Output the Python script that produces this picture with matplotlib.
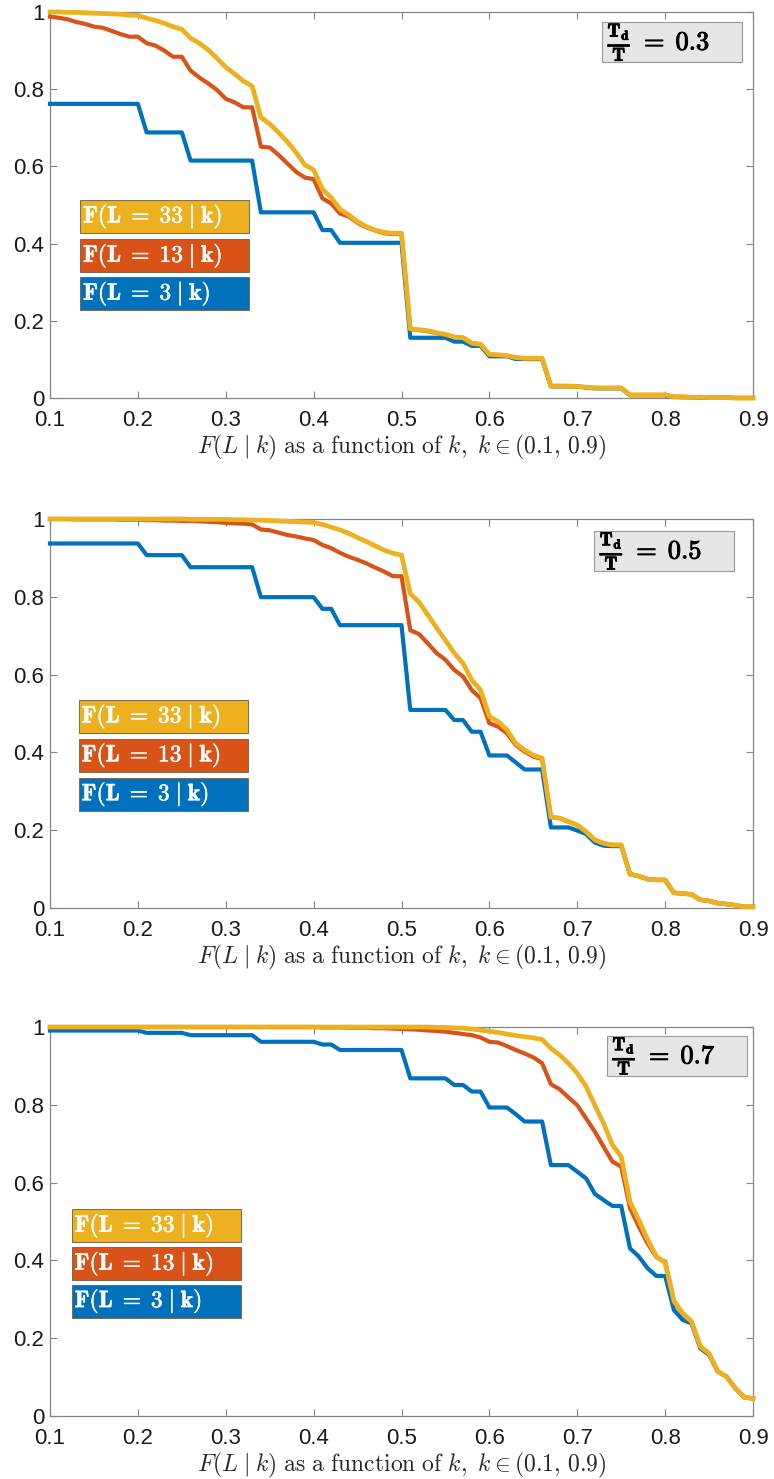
import numpy as np
import matplotlib
matplotlib.use("Agg")
import matplotlib.pyplot as plt
import matplotlib.patheffects as pe
from matplotlib.patches import Rectangle

plt.rcParams["font.family"] = ["Liberation Sans", "DejaVu Sans"]
plt.rcParams["mathtext.fontset"] = "cm"

# k grid, 0.10 ... 0.90 in steps of 0.01
k = np.round(np.arange(10, 91) / 100, 2)

# Td/T = 0.3
f3_03 = [0.762, 0.762, 0.762, 0.762, 0.762, 0.762, 0.762, 0.762, 0.762, 0.762,
         0.762, 0.688, 0.688, 0.688, 0.688, 0.688, 0.615, 0.615, 0.615, 0.615,
         0.615, 0.615, 0.615, 0.615, 0.481, 0.481, 0.481, 0.481, 0.481, 0.481,
         0.481, 0.435, 0.435, 0.402, 0.402, 0.402, 0.402, 0.402, 0.402, 0.402,
         0.402, 0.156, 0.156, 0.156, 0.156, 0.156, 0.146, 0.146, 0.135, 0.135,
         0.108, 0.108, 0.108, 0.101, 0.101, 0.101, 0.101, 0.030, 0.030, 0.030,
         0.030, 0.027, 0.025, 0.025, 0.025, 0.025, 0.007, 0.007, 0.007, 0.007,
         0.007, 0.003, 0.002, 0.002, 0.001, 0.001, 0.001, 0.001, 0.000, 0.000, 0.000]
f13_03 = [0.988, 0.985, 0.981, 0.974, 0.969, 0.962, 0.959, 0.951, 0.943, 0.936,
          0.936, 0.919, 0.913, 0.900, 0.884, 0.884, 0.848, 0.830, 0.815, 0.798,
          0.775, 0.766, 0.753, 0.753, 0.651, 0.649, 0.630, 0.608, 0.586, 0.571,
          0.567, 0.517, 0.504, 0.478, 0.470, 0.454, 0.442, 0.434, 0.427, 0.425,
          0.425, 0.178, 0.176, 0.173, 0.168, 0.164, 0.158, 0.156, 0.142, 0.139,
          0.112, 0.111, 0.109, 0.104, 0.102, 0.102, 0.102, 0.031, 0.031, 0.031,
          0.030, 0.028, 0.026, 0.026, 0.026, 0.026, 0.008, 0.008, 0.008, 0.008,
          0.008, 0.003, 0.003, 0.002, 0.002, 0.001, 0.001, 0.001, 0.000, 0.000, 0.000]
f33_03 = [1.000, 1.000, 0.999, 0.999, 0.998, 0.997, 0.996, 0.995, 0.994, 0.992,
          0.991, 0.984, 0.978, 0.971, 0.962, 0.955, 0.932, 0.919, 0.902, 0.880,
          0.857, 0.840, 0.821, 0.808, 0.727, 0.710, 0.688, 0.664, 0.636, 0.604,
          0.591, 0.541, 0.519, 0.489, 0.474, 0.457, 0.444, 0.435, 0.429, 0.427,
          0.427, 0.179, 0.177, 0.174, 0.169, 0.165, 0.158, 0.156, 0.142, 0.139,
          0.113, 0.112, 0.110, 0.105, 0.103, 0.103, 0.103, 0.031, 0.031, 0.031,
          0.030, 0.028, 0.026, 0.026, 0.026, 0.026, 0.008, 0.008, 0.008, 0.008,
          0.008, 0.003, 0.003, 0.002, 0.002, 0.001, 0.001, 0.001, 0.000, 0.000, 0.000]

# Td/T = 0.5
f3_05 = [0.937, 0.937, 0.937, 0.937, 0.937, 0.937, 0.937, 0.937, 0.937, 0.937,
         0.937, 0.907, 0.907, 0.907, 0.907, 0.907, 0.876, 0.876, 0.876, 0.876,
         0.876, 0.876, 0.876, 0.876, 0.799, 0.799, 0.799, 0.799, 0.799, 0.799,
         0.799, 0.769, 0.769, 0.727, 0.727, 0.727, 0.727, 0.727, 0.727, 0.727,
         0.727, 0.509, 0.509, 0.509, 0.509, 0.509, 0.483, 0.483, 0.453, 0.453,
         0.392, 0.392, 0.392, 0.374, 0.356, 0.356, 0.356, 0.207, 0.207, 0.207,
         0.199, 0.190, 0.168, 0.160, 0.159, 0.159, 0.087, 0.082, 0.074, 0.072,
         0.072, 0.039, 0.037, 0.035, 0.021, 0.018, 0.012, 0.010, 0.007, 0.003, 0.003]
f13_05 = [1.000, 1.000, 1.000, 0.999, 0.999, 0.999, 0.999, 0.999, 0.998, 0.998,
          0.998, 0.997, 0.997, 0.996, 0.996, 0.995, 0.995, 0.994, 0.993, 0.992,
          0.990, 0.989, 0.988, 0.986, 0.973, 0.971, 0.965, 0.959, 0.955, 0.950,
          0.946, 0.933, 0.925, 0.913, 0.903, 0.895, 0.886, 0.875, 0.865, 0.853,
          0.853, 0.714, 0.704, 0.680, 0.655, 0.638, 0.612, 0.595, 0.560, 0.539,
          0.475, 0.466, 0.449, 0.419, 0.402, 0.389, 0.383, 0.233, 0.231, 0.222,
          0.213, 0.196, 0.175, 0.166, 0.162, 0.162, 0.087, 0.082, 0.074, 0.072,
          0.072, 0.039, 0.037, 0.035, 0.021, 0.018, 0.012, 0.010, 0.007, 0.003, 0.003]
f33_05 = [1.000, 1.000, 1.000, 1.000, 1.000, 1.000, 1.000, 1.000, 1.000, 1.000,
          1.000, 1.000, 1.000, 1.000, 1.000, 1.000, 0.999, 0.999, 0.999, 0.999,
          0.999, 0.998, 0.998, 0.997, 0.997, 0.996, 0.995, 0.994, 0.993, 0.992,
          0.991, 0.986, 0.979, 0.972, 0.963, 0.952, 0.942, 0.931, 0.920, 0.912,
          0.907, 0.808, 0.786, 0.753, 0.720, 0.688, 0.655, 0.629, 0.586, 0.560,
          0.492, 0.479, 0.458, 0.423, 0.406, 0.393, 0.385, 0.233, 0.231, 0.222,
          0.213, 0.196, 0.175, 0.166, 0.162, 0.162, 0.087, 0.082, 0.074, 0.072,
          0.072, 0.039, 0.037, 0.035, 0.021, 0.018, 0.012, 0.010, 0.007, 0.003, 0.003]

# Td/T = 0.7
f3_07 = [0.991, 0.991, 0.991, 0.991, 0.991, 0.991, 0.991, 0.991, 0.991, 0.991,
         0.991, 0.985, 0.985, 0.985, 0.985, 0.985, 0.979, 0.979, 0.979, 0.979,
         0.979, 0.979, 0.979, 0.979, 0.962, 0.962, 0.962, 0.962, 0.962, 0.962,
         0.962, 0.955, 0.955, 0.941, 0.941, 0.941, 0.941, 0.941, 0.941, 0.941,
         0.941, 0.868, 0.868, 0.868, 0.868, 0.868, 0.851, 0.851, 0.834, 0.834,
         0.793, 0.793, 0.793, 0.776, 0.757, 0.757, 0.757, 0.645, 0.645, 0.645,
         0.628, 0.611, 0.571, 0.555, 0.540, 0.540, 0.431, 0.410, 0.380, 0.360,
         0.360, 0.272, 0.247, 0.238, 0.174, 0.157, 0.114, 0.101, 0.071, 0.048, 0.045]
f13_07 = [1.000, 1.000, 1.000, 1.000, 1.000, 1.000, 1.000, 1.000, 1.000, 1.000,
          1.000, 1.000, 1.000, 1.000, 1.000, 1.000, 1.000, 1.000, 1.000, 1.000,
          1.000, 1.000, 1.000, 1.000, 1.000, 1.000, 1.000, 1.000, 1.000, 1.000,
          1.000, 0.999, 0.999, 0.999, 0.998, 0.998, 0.998, 0.997, 0.997, 0.996,
          0.995, 0.994, 0.993, 0.991, 0.990, 0.988, 0.985, 0.982, 0.979, 0.973,
          0.962, 0.960, 0.951, 0.941, 0.932, 0.922, 0.907, 0.853, 0.840, 0.819,
          0.799, 0.765, 0.731, 0.692, 0.654, 0.641, 0.535, 0.487, 0.444, 0.408,
          0.397, 0.294, 0.262, 0.242, 0.178, 0.160, 0.114, 0.101, 0.071, 0.048, 0.045]
f33_07 = [1.000, 1.000, 1.000, 1.000, 1.000, 1.000, 1.000, 1.000, 1.000, 1.000,
          1.000, 1.000, 1.000, 1.000, 1.000, 1.000, 1.000, 1.000, 1.000, 1.000,
          1.000, 1.000, 1.000, 1.000, 1.000, 1.000, 1.000, 1.000, 1.000, 1.000,
          1.000, 1.000, 1.000, 1.000, 1.000, 1.000, 1.000, 1.000, 1.000, 1.000,
          1.000, 1.000, 1.000, 1.000, 0.999, 0.999, 0.998, 0.997, 0.995, 0.992,
          0.989, 0.986, 0.982, 0.978, 0.975, 0.972, 0.968, 0.945, 0.928, 0.907,
          0.881, 0.847, 0.799, 0.752, 0.697, 0.667, 0.551, 0.504, 0.454, 0.410,
          0.394, 0.296, 0.264, 0.243, 0.179, 0.161, 0.114, 0.101, 0.071, 0.048, 0.045]

ratios = ["0.3", "0.5", "0.7"]
curves_L3 = [f3_03, f3_05, f3_07]
curves_L13 = [f13_03, f13_05, f13_07]
curves_L33 = [f33_03, f33_05, f33_07]
labels = [r"$\mathbf{F(L\;=\;33\;|\;k)}$", r"$\mathbf{F(L\;=\;13\;|\;k)}$", r"$\mathbf{F(L\;=\;3\;|\;k)}$"]

blue, orange, yellow = "#0072BD", "#D95319", "#EDB120"
grey = "#868686"

fig = plt.figure(figsize=(7.74, 14.79), dpi=100)
axes_pos = [[0.0646, 0.7309, 0.9083, 0.2610],
            [0.0646, 0.3861, 0.9083, 0.2630],
            [0.0646, 0.0426, 0.9083, 0.2630]]
# legend boxes (axes coords): left x, bottoms of yellow/orange/blue boxes
leg_x = [0.043, 0.041, 0.031]
leg_y = [[0.428, 0.326, 0.228], [0.450, 0.350, 0.250], [0.447, 0.349, 0.253]]
# Td/T annotation box: left x, bottom y
td_xy = [(0.785, 0.870), (0.774, 0.866), (0.792, 0.874)]

for i in range(3):
    ax = fig.add_axes(axes_pos[i])
    ax.plot(k, curves_L3[i], color=blue, linewidth=3.0, clip_on=False, zorder=3)
    ax.plot(k, curves_L13[i], color=orange, linewidth=3.0, clip_on=False, zorder=3)
    ax.plot(k, curves_L33[i], color=yellow, linewidth=3.4, clip_on=False, zorder=3)

    ax.set_xlim(0.1, 0.9)
    ax.set_ylim(0, 1)
    ax.set_xticks(np.round(np.arange(1, 10) / 10, 1))
    ax.set_xticklabels(["0.1", "0.2", "0.3", "0.4", "0.5", "0.6", "0.7", "0.8", "0.9"])
    ax.set_yticks([0, 0.2, 0.4, 0.6, 0.8, 1])
    ax.set_yticklabels(["0", "0.2", "0.4", "0.6", "0.8", "1"])
    ax.tick_params(direction="in", length=5, width=0.8, color=grey, top=True, right=True,
                   labelsize=16, labelcolor="#1a1a1a")
    ax.tick_params(axis="x", pad=9)
    ax.tick_params(axis="y", pad=4)
    for s in ax.spines.values():
        s.set_color(grey)
        s.set_linewidth(0.9)
    ax.set_xlabel(r"$F(L\;|\;k)\ \mathrm{as\ a\ function\ of}\ k,\ k\in(0.1,\,0.9)$",
                  fontsize=17, color="#262626", labelpad=1)

    # coloured label boxes
    for yb, col, lab in zip(leg_y[i], [yellow, orange, blue], labels):
        ax.add_patch(Rectangle((leg_x[i], yb), 0.240, 0.085, transform=ax.transAxes,
                               facecolor=col, edgecolor="#7a6a50", linewidth=0.7,
                               clip_on=False, zorder=5))
        ax.text(leg_x[i] + 0.004, yb + 0.0425, lab, transform=ax.transAxes, color="white",
                fontsize=17, va="center", ha="left", zorder=6,
                path_effects=[pe.withStroke(linewidth=0.4, foreground="white")])

    # Td/T box
    tx, ty = td_xy[i]
    ax.add_patch(Rectangle((tx, ty), 0.199, 0.104, transform=ax.transAxes,
                           facecolor="#e6e6e6", edgecolor="#9a9a9a", linewidth=0.8,
                           clip_on=False, zorder=5))
    ax.text(tx + 0.008, ty + 0.052,
            r"$\frac{\mathbf{T_d}}{\mathbf{T}}\;=\;\mathbf{" + ratios[i] + "}$",
            transform=ax.transAxes, fontsize=19, va="center", ha="left", zorder=6,
            path_effects=[pe.withStroke(linewidth=0.7, foreground="black")])

fig.savefig("out.png", dpi=100)
